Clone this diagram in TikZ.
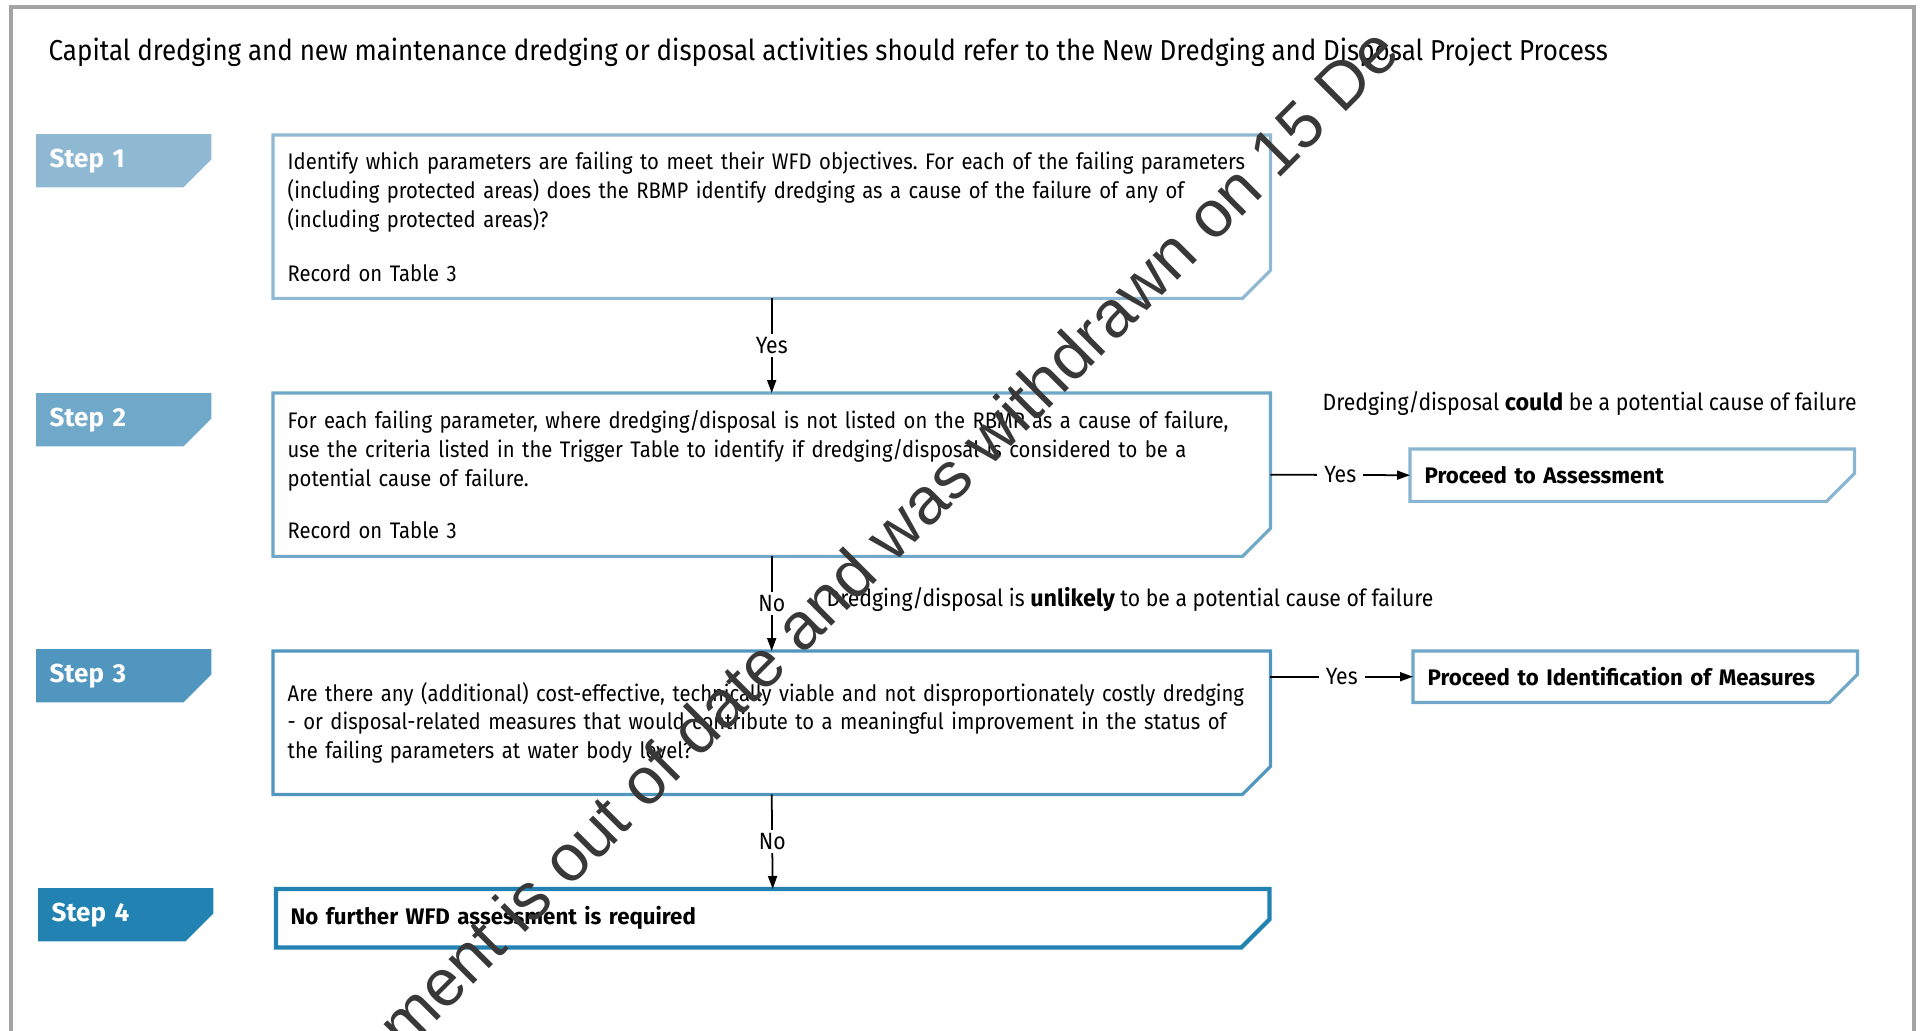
\documentclass[tikz,border=0pt]{standalone}
\usepackage{fontspec}
\setmainfont{Fira Sans}[FakeStretch=0.90]
\newfontfamily\stepfont{Fira Sans}
\newfontfamily\strongfont{Fira Sans}[FakeStretch=0.99]
\newfontfamily\markfont{Liberation Sans}
\usetikzlibrary{arrows.meta,backgrounds}
\frenchspacing

\definecolor{stepa}{HTML}{8FB8D3}
\definecolor{stepb}{HTML}{6FA8C9}
\definecolor{stepc}{HTML}{5096BF}
\definecolor{stepd}{HTML}{2282B1}
\definecolor{framegray}{HTML}{A3A3A3}

\newcommand{\bodysize}{\fontsize{6.4}{8.2}\selectfont}
\newcommand{\notesize}{\fontsize{6.7}{8.2}\selectfont}
\newcommand{\keyword}[1]{{\strongfont\bfseries #1}}

\tikzset{
  steptab/.style={anchor=north west, minimum width=1.74cm, minimum height=0.52cm,
    text width=1.48cm, inner xsep=0.13cm, inner ysep=0pt, align=left,
    text=white, font=\fontsize{7.4}{9}\stepfont\bfseries},
  textbox/.style={anchor=north west, text width=9.68cm, inner xsep=0.14cm,
    inner ysep=0pt, align=left},
  outbox/.style={anchor=north west, text width=4.15cm, minimum height=0.51cm,
    inner xsep=0.14cm, inner ysep=0pt, align=left, font=\bodysize\strongfont\bfseries},
  flow/.style={-{Triangle[length=0.13cm,width=0.09cm]}, line width=0.5pt},
  lbl/.style={fill=white, inner xsep=2pt, inner ysep=1pt, font=\notesize},
  note/.style={anchor=west, inner sep=0pt, font=\notesize}
}

\begin{document}
\begin{tikzpicture}[every node/.style={font=\bodysize}]

    \useasboundingbox (0,0) rectangle (19.25,-10.30);
    \clip (0,0) rectangle (19.25,-10.30);

    % Frame
    \draw[framegray, line width=0.9pt] (0.11,-11) -- (0.11,-0.07) -- (19.14,-0.07) -- (19.14,-11);

    % Title
    \node (title) at (0.48,-0.60) [anchor=base west, inner sep=0pt, font=\fontsize{8.2}{10}\selectfont]
        {Capital dredging and new maintenance dredging or disposal activities should refer to the New Dredging and Disposal Project Process};

    % Steps
    \node (step1) at (0.36,-1.34) [steptab] {Step 1};
    \node (step2) at (0.36,-3.93) [steptab] {Step 2};
    \node (step3) at (0.36,-6.49) [steptab] {Step 3};
    \node (step4) at (0.38,-8.88) [steptab] {Step 4};

    % Boxes
    \node (box1) at (2.73,-1.35) [textbox, minimum height=1.62cm]
        {Identify which parameters are failing to meet their WFD objectives. For each of the failing parameters\\
         (including protected areas) does the RBMP identify dredging as a cause of the failure of any of\\
         (including protected areas)?\\[0.25cm]
         Record on Table 3};
    \node (box2) at (2.73,-3.93) [textbox, minimum height=1.62cm]
        {For each failing parameter, where dredging/disposal is not listed on the RBMP as a cause of failure,\\
         use the criteria listed in the Trigger Table to identify if dredging/disposal is considered to be a\\
         potential cause of failure.\\[0.23cm]
         Record on Table 3};
    \node (box3) at (2.73,-6.51) [textbox, minimum height=1.42cm]
        {Are there any (additional) cost-effective, technically viable and not disproportionately costly dredging\\
         - or disposal-related measures that would contribute to a meaningful improvement in the status of\\
         the failing parameters at water body level?};
    \node (box4) at (2.76,-8.89) [textbox, text width=9.64cm, minimum height=0.57cm, font=\bodysize\strongfont\bfseries]
        {No further WFD assessment is required};
    \node (assess) at (14.10,-4.49) [outbox] {Proceed to Assessment};
    \node (meas) at (14.13,-6.51) [outbox, minimum height=0.50cm] {Proceed to Identification of Measures};

    % Labels
    \node (could) at (13.22,-4.03) [note]
        {Dredging/disposal \keyword{could} be a potential cause of failure};
    \node (unlikely) at (8.26,-6.00) [note]
        {Dredging/disposal is \keyword{unlikely} to be a potential cause of failure};

    % Tabs and outlines
    \begin{scope}[on background layer]
    \foreach \n/\c in {step1/stepa, step2/stepb, step3/stepc, step4/stepd}
        \fill[\c] (\n.north west) -- (\n.north east) -- ([yshift=0.28cm]\n.south east)
            -- ([xshift=-0.28cm]\n.south east) -- (\n.south west) -- cycle;
    \end{scope}
    \foreach \n/\c/\w in {box1/stepa/0.9pt, box2/stepb/0.9pt, box3/stepc/0.9pt, box4/stepd/1.2pt,
                          assess/stepa!80!stepb/0.9pt, meas/stepb/0.9pt}
        \draw[\c, line width=\w] (\n.north west) -- (\n.north east) -- ([yshift=0.28cm]\n.south east)
            -- ([xshift=-0.28cm]\n.south east) -- (\n.south west) -- cycle;

    % Edges
    \draw[flow] (box1.south) -- (box2.north) node[midway, lbl] {Yes};
    \draw[flow] (box2.south) -- (box3.north) node[midway, lbl] {No};
    \draw[flow] (box3.south) -- (box4.north) node[midway, lbl] {No};
    \draw[flow] (box2.east) -- (assess.west) node[midway, lbl] {Yes};
    \draw[flow] (box3.east |- meas.west) -- (meas.west) node[midway, lbl] {Yes};

    % Watermark
    \node (mark) at (4.05,-10.53) [rotate=45, anchor=base west, inner sep=0pt, text=black!78,
        font=\fontsize{18.8}{20}\markfont] {ment is out of date and was withdrawn on 15 De};

\end{tikzpicture}
\end{document}
